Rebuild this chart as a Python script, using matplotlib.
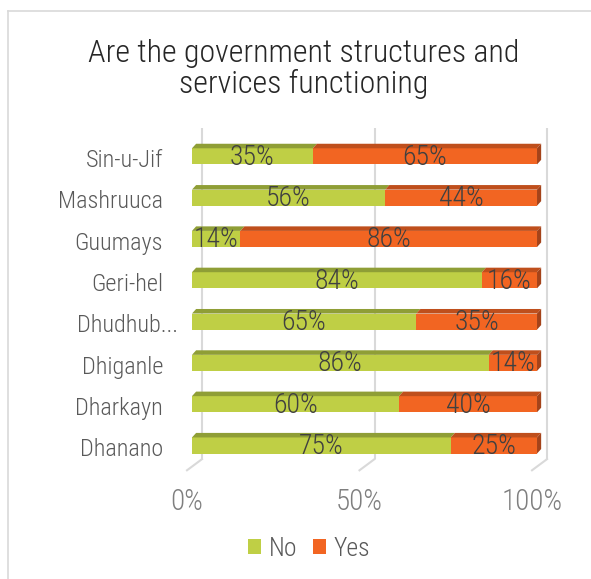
import matplotlib
matplotlib.use("Agg")
from matplotlib import pyplot as plt
from matplotlib.patches import Rectangle, Polygon, Patch
from matplotlib.lines import Line2D
import matplotlib.transforms as mtransforms

plt.rcParams["font.family"] = ["Roboto Condensed", "Roboto", "DejaVu Sans"]
plt.rcParams["font.weight"] = "light"

# datos (de abajo hacia arriba)
distritos = ["Dhanano", "Dharkayn", "Dhiganle", "Dhudhub...", "Geri-hel",
             "Guumays", "Mashruuca", "Sin-u-Jif"]
no = [75, 60, 86, 65, 84, 14, 56, 35]
yes = [25, 40, 14, 35, 16, 86, 44, 65]
ticks_x = [0, 50, 100]
titulo = "Are the government structures and\nservices functioning"

verde, verde_top = "#BFCF45", "#8F9E36"
naranja, naranja_top, naranja_lado = "#F26522", "#BF4F1C", "#A4431A"
gris = "#D9D9D9"

fig = plt.figure(figsize=(5.91, 5.79), dpi=100)
ax = fig.add_axes([150 / 591, 1 - 480 / 579, 430 / 591, 360 / 579])
ax.set_xlim(-12.17, 112.46)
ax.set_ylim(-0.835, 7.88)
ax.axis("off")

# profundidad 3D en unidades de datos
dx, dy = 1.2, 0.11
h = 0.39
fondo_dx = 2.9
piso_dx, piso_dy = -1.45, -0.27
y_piso = -0.33
y_tope = 7.69

# pared de fondo y piso
for v in ticks_x:
    ax.plot([v + fondo_dx, v + fondo_dx], [y_piso, y_tope], color=gris, lw=1.5,
            zorder=0, solid_capstyle="butt")
    ax.plot([v + fondo_dx, v + piso_dx], [y_piso, y_piso + piso_dy], color=gris,
            lw=1.5, zorder=0, clip_on=False)
    ax.text(v + piso_dx, -1.36, f"{v}%", ha="center", va="center", fontsize=21,
            color="#7F7F7F", clip_on=False)


def barra(izq, ancho, y, cara, techo, lado=None):
    ax.add_patch(Rectangle((izq, y - h / 2), ancho, h, facecolor=cara,
                           edgecolor="none", zorder=2))
    ax.add_patch(Polygon([(izq, y + h / 2), (izq + dx, y + h / 2 + dy),
                          (izq + ancho + dx, y + h / 2 + dy), (izq + ancho, y + h / 2)],
                         facecolor=techo, edgecolor="none", zorder=2))
    if lado:
        der = izq + ancho
        ax.add_patch(Polygon([(der, y - h / 2), (der + dx, y - h / 2 + dy),
                              (der + dx, y + h / 2 + dy), (der, y + h / 2)],
                             facecolor=lado, edgecolor="none", zorder=2))


for i, (n, s) in enumerate(zip(no, yes)):
    barra(0, n, i, verde, verde_top)
    barra(n, s, i, naranja, naranja_top, naranja_lado)
    ax.text(n / 2, i - 0.02, f"{n}%", ha="center", va="center", fontsize=20,
            color="#404040", zorder=3)
    ax.text(n + s / 2, i - 0.02, f"{s}%", ha="center", va="center", fontsize=20,
            color="#404040", zorder=3)

# etiquetas de categorias
for i, d in enumerate(distritos):
    t = ax.text(-8.4, i - 0.1, d, ha="right", va="center", fontsize=17.5,
                color="#595959", clip_on=False)
    if d.endswith("..."):
        t.set_transform(ax.transData + mtransforms.ScaledTranslation(0.15, 0, fig.dpi_scale_trans))

fig.text(304 / 591, 1 - 69 / 579, titulo, ha="center", va="center", fontsize=23,
         color="#262626", linespacing=1.08)

handles = [Patch(facecolor=verde, label="No"), Patch(facecolor=naranja, label="Yes")]
fig.legend(handles=handles, loc="center", bbox_to_anchor=(309 / 591, 1 - 549 / 579),
           ncol=2, frameon=False, fontsize=18.5, handlelength=0.52, handleheight=0.52,
           handletextpad=0.3, columnspacing=0.6, labelcolor="#595959")

# borde del grafico
fig.add_artist(Line2D([8 / 591, 1], [1 - 11 / 579, 1 - 11 / 579], color=gris, lw=1.2))
fig.add_artist(Line2D([8 / 591, 8 / 591], [0, 1 - 11 / 579], color=gris, lw=1.2))

fig.savefig("out.png", dpi=100)
